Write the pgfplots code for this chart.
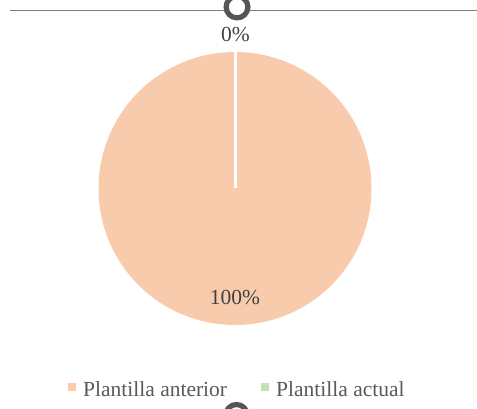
\documentclass[border=0pt]{standalone}
\usepackage{pgfplots}
\usepackage{pgfplotstable}
\pgfplotsset{compat=1.18}
\usepackage{fontspec}
\setmainfont{Liberation Serif}
\definecolor{peach}{HTML}{F8CBAD}
\definecolor{lgreen}{HTML}{C5E0B4}
\definecolor{txt}{HTML}{595959}
\definecolor{lbl}{HTML}{404040}
\definecolor{frame}{HTML}{808080}
\definecolor{ring}{HTML}{555555}
\pgfplotstableread{
value
100
0
}\piedata
\begin{document}%
\begin{tikzpicture}
\pgfplotstablegetelem{0}{value}\of\piedata \let\va\pgfplotsretval
\pgfplotstablegetelem{1}{value}\of\piedata \let\vb\pgfplotsretval
\pgfmathsetmacro\aStart{90}
\pgfmathsetmacro\aMid{90-3.6*\va}
\pgfmathsetmacro\aEnd{\aMid-3.6*\vb}
\begin{axis}[
  name=ax,
  scale only axis,
  width=477bp, height=409bp,
  xmin=0, xmax=477, ymin=0, ymax=409,
  hide axis,
  clip=false,
]
% selection frame line and handles
\addplot[frame, line width=1.6bp, mark=none] coordinates {(10,398.3) (477,398.3)};
\addplot[only marks, mark=*, mark size=10.9bp, mark options={fill=white, draw=ring, line width=5.2bp}] coordinates {(237,402) (236.5,-6.4)};
% pie slices
\fill[peach] (axis cs:235,220.5) -- ++(\aStart:136.5bp) arc[start angle=\aStart, end angle=\aMid, radius=136.5bp] -- cycle;
\fill[lgreen] (axis cs:235,220.5) -- ++(\aMid:136.5bp) arc[start angle=\aMid, end angle=\aEnd, radius=136.5bp] -- cycle;
\draw[white, line width=3bp] (axis cs:235,220.5) -- ++(\aStart:138bp);
\draw[white, line width=3bp] (axis cs:235,220.5) -- ++(\aMid:138bp);
% data labels
\node[anchor=base, inner sep=0, text=lbl, font=\fontsize{21.5bp}{24bp}\selectfont] at (axis cs:235.5,367.3) {0\%};
\node[anchor=base, inner sep=0, text=lbl, font=\fontsize{21.5bp}{24bp}\selectfont] at (axis cs:235,104) {100\%};
% legend
\addplot[only marks, mark=square*, mark size=3.35bp, color=peach] coordinates {(71.7,22.3)};
\addplot[only marks, mark=square*, mark size=3.35bp, color=lgreen] coordinates {(264.5,22.3)};
\node[anchor=base west, inner sep=0, text=txt, font=\fontsize{21.5bp}{24bp}\selectfont] at (axis cs:83,13) {Plantilla anterior};
\node[anchor=base west, inner sep=0, text=txt, font=\fontsize{21.5bp}{24bp}\selectfont] at (axis cs:276,13) {Plantilla actual};
\end{axis}
\pgfresetboundingbox
\path[use as bounding box] (ax.south west) rectangle (ax.north east);
\end{tikzpicture}%
\end{document}
